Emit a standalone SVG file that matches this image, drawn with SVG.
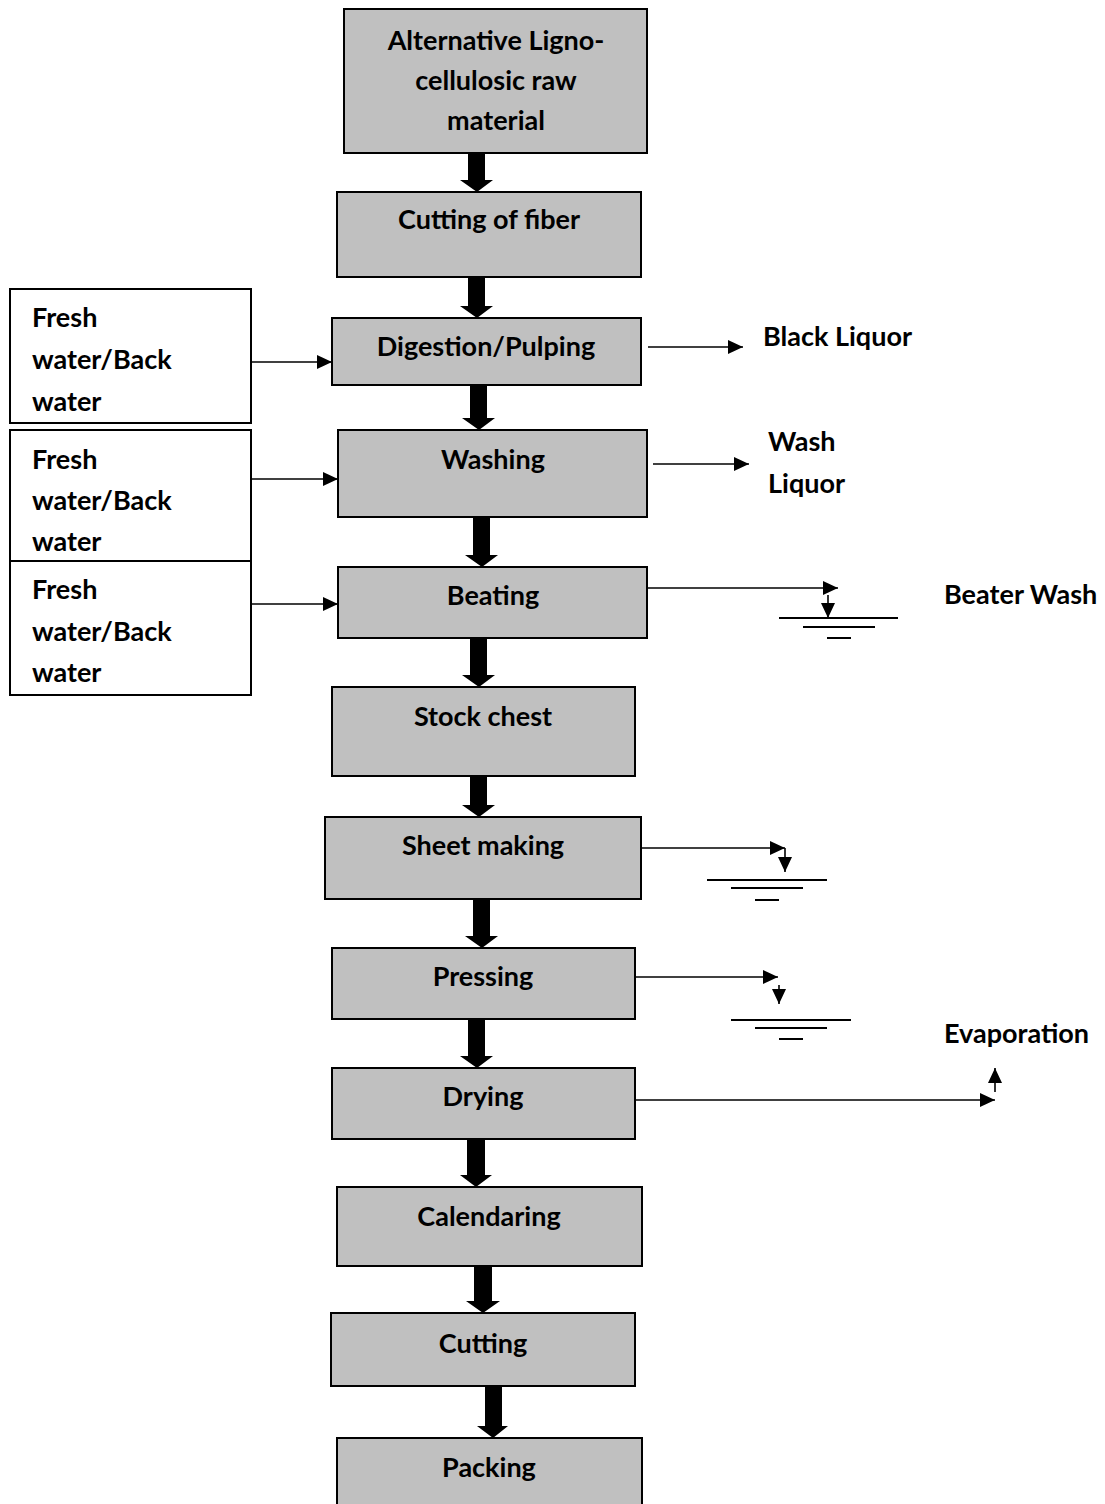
<svg xmlns="http://www.w3.org/2000/svg" width="1105" height="1504" viewBox="0 0 1105 1504">
<defs>
<style>
.box{fill:#c0c0c0;stroke:#000;stroke-width:2}
.wbox{fill:#fff;stroke:#000;stroke-width:2}
.t{font-family:Lato,"Liberation Sans",sans-serif;font-weight:bold;font-size:27px;fill:#000}
.c{text-anchor:middle}
.ln{stroke:#000;stroke-width:1.6;fill:none}
.gl{stroke:#000;stroke-width:2;fill:none}
.big{fill:#000}
</style>
<marker id="ah" markerWidth="16" markerHeight="14" refX="15" refY="7" orient="auto" markerUnits="userSpaceOnUse">
<path d="M0,0 L15,7 L0,14 Z" fill="#000"/>
</marker>
</defs>
<rect width="1105" height="1504" fill="#fff"/>

<g id="n1"><rect class="box" x="344" y="9" width="303" height="144"/>
<text class="t c" x="496" y="50">Alternative Ligno-</text>
<text class="t c" x="496" y="90">cellulosic raw</text>
<text class="t c" x="496" y="130">material</text></g>
<g id="n2"><rect class="box" x="337" y="192" width="304" height="85"/><text class="t c" x="489" y="229">Cutting of fiber</text></g>
<g id="n3"><rect class="box" x="332" y="318" width="309" height="67"/><text class="t c" x="486" y="356">Digestion/Pulping</text></g>
<g id="n4"><rect class="box" x="338" y="430" width="309" height="87"/><text class="t c" x="493" y="469">Washing</text></g>
<g id="n5"><rect class="box" x="338" y="567" width="309" height="71"/><text class="t c" x="493" y="605">Beating</text></g>
<g id="n6"><rect class="box" x="332" y="687" width="303" height="89"/><text class="t c" x="483" y="726">Stock chest</text></g>
<g id="n7"><rect class="box" x="325" y="817" width="316" height="82"/><text class="t c" x="483" y="855">Sheet making</text></g>
<g id="n8"><rect class="box" x="332" y="948" width="303" height="71"/><text class="t c" x="483" y="986">Pressing</text></g>
<g id="n9"><rect class="box" x="332" y="1068" width="303" height="71"/><text class="t c" x="483" y="1106">Drying</text></g>
<g id="n10"><rect class="box" x="337" y="1187" width="305" height="79"/><text class="t c" x="489" y="1226">Calendaring</text></g>
<g id="n11"><rect class="box" x="331" y="1313" width="304" height="73"/><text class="t c" x="483" y="1353">Cutting</text></g>
<g id="n12"><rect class="box" x="337" y="1438" width="305" height="80"/><text class="t c" x="489" y="1477">Packing</text></g>

<g id="w1"><rect class="wbox" x="10" y="289" width="241" height="134"/>
<text class="t" x="32" y="327">Fresh</text><text class="t" x="32" y="369">water/Back</text><text class="t" x="32" y="411">water</text></g>
<g id="w2"><rect class="wbox" x="10" y="430" width="241" height="131"/>
<text class="t" x="32" y="469">Fresh</text><text class="t" x="32" y="510">water/Back</text><text class="t" x="32" y="551">water</text></g>
<g id="w3"><rect class="wbox" x="10" y="561" width="241" height="134"/>
<text class="t" x="32" y="599">Fresh</text><text class="t" x="32" y="641">water/Back</text><text class="t" x="32" y="682">water</text></g>

<g id="o1"><text class="t" x="763" y="346">Black Liquor</text></g>
<g id="o2"><text class="t" x="768" y="451">Wash</text><text class="t" x="768" y="493">Liquor</text></g>
<g id="o3"><text class="t" x="944" y="604">Beater Wash</text></g>
<g id="o4"><text class="t" x="944" y="1043">Evaporation</text></g>

<g id="connectors">
<polygon class="big" points="468,153 485,153 485,180 493,180 477,192 460,180 468,180"/>
<polygon class="big" points="468,277 485,277 485,306 493,306 477,318 460,306 468,306"/>
<polygon class="big" points="470,385 487,385 487,418 495,418 479,430 462,418 470,418"/>
<polygon class="big" points="473,517 490,517 490,555 498,555 482,567 465,555 473,555"/>
<polygon class="big" points="470,638 487,638 487,675 495,675 479,687 462,675 470,675"/>
<polygon class="big" points="470,776 487,776 487,805 495,805 479,817 462,805 470,805"/>
<polygon class="big" points="473,899 490,899 490,936 498,936 482,948 465,936 473,936"/>
<polygon class="big" points="468,1019 485,1019 485,1056 493,1056 477,1068 460,1056 468,1056"/>
<polygon class="big" points="467,1139 485,1139 485,1175 492,1175 476,1187 460,1175 467,1175"/>
<polygon class="big" points="474,1266 492,1266 492,1301 500,1301 483,1313 466,1301 474,1301"/>
<polygon class="big" points="485,1386 502,1386 502,1426 508,1426 493,1438 477,1426 485,1426"/>

<line class="ln" x1="251" y1="362" x2="332" y2="362" marker-end="url(#ah)"/>
<line class="ln" x1="251" y1="479" x2="338" y2="479" marker-end="url(#ah)"/>
<line class="ln" x1="251" y1="604" x2="338" y2="604" marker-end="url(#ah)"/>

<line class="ln" x1="648" y1="347" x2="743" y2="347" marker-end="url(#ah)"/>
<line class="ln" x1="653" y1="464" x2="749" y2="464" marker-end="url(#ah)"/>

<line class="ln" x1="647" y1="588" x2="838" y2="588" marker-end="url(#ah)"/>
<line class="ln" x1="828" y1="595" x2="828" y2="618" marker-end="url(#ah)"/>
<line class="gl" x1="779" y1="618" x2="898" y2="618"/>
<line class="gl" x1="803" y1="627" x2="875" y2="627"/>
<line class="gl" x1="827" y1="638" x2="851" y2="638"/>

<line class="ln" x1="641" y1="848" x2="785" y2="848" marker-end="url(#ah)"/>
<line class="ln" x1="785" y1="848" x2="785" y2="872" marker-end="url(#ah)"/>
<line class="gl" x1="707" y1="880" x2="827" y2="880"/>
<line class="gl" x1="731" y1="888" x2="803" y2="888"/>
<line class="gl" x1="755" y1="900" x2="779" y2="900"/>

<line class="ln" x1="635" y1="977" x2="778" y2="977" marker-end="url(#ah)"/>
<line class="ln" x1="779" y1="985" x2="779" y2="1004" marker-end="url(#ah)"/>
<line class="gl" x1="731" y1="1020" x2="851" y2="1020"/>
<line class="gl" x1="755" y1="1028" x2="827" y2="1028"/>
<line class="gl" x1="779" y1="1039" x2="803" y2="1039"/>

<line class="ln" x1="635" y1="1100" x2="995" y2="1100" marker-end="url(#ah)"/>
<line class="ln" x1="995" y1="1092" x2="995" y2="1068" marker-end="url(#ah)"/>
</g>
</svg>
